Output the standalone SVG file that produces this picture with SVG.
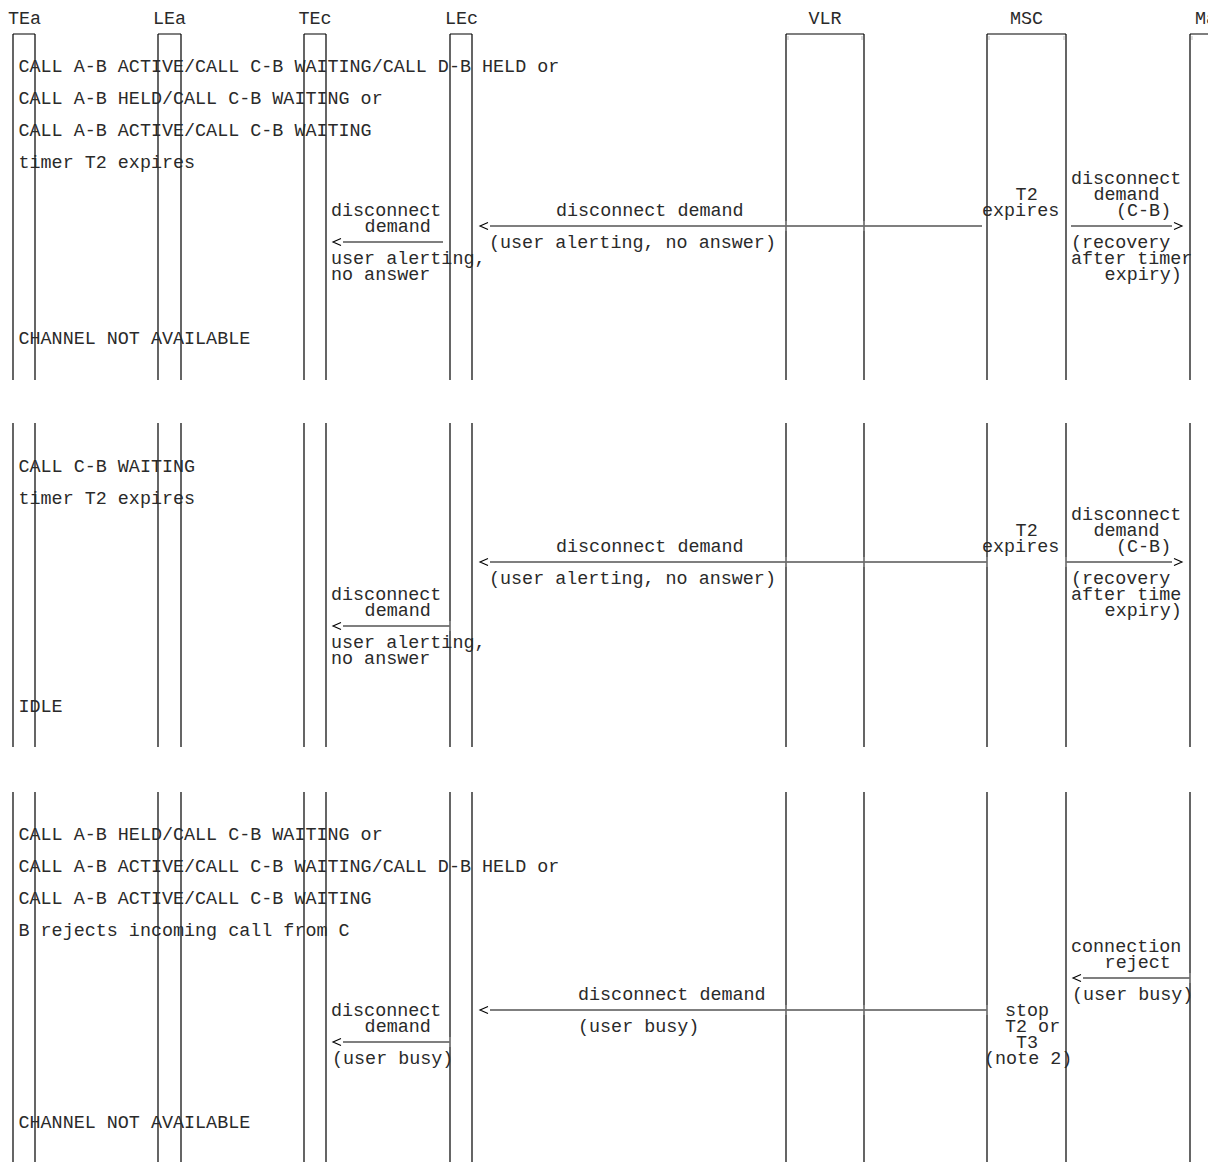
<svg xmlns="http://www.w3.org/2000/svg" width="1208" height="1162" viewBox="0 0 1208 1162">
<style>
text{font-family:"Liberation Mono","DejaVu Sans Mono",monospace;font-size:18.4px;fill:#2a2a2a}
.hd{text-anchor:middle}
.ll{stroke:#000;stroke-width:1.2;fill:none}
.msg{stroke:#000;stroke-width:1.1;fill:none}
.tick{stroke:#999;stroke-width:1.2;fill:none}
.corner{stroke:#bbb;stroke-width:1;fill:none}
</style>
<defs>
<marker id="chev" viewBox="0 0 10 8" markerWidth="10" markerHeight="8" markerUnits="userSpaceOnUse" refX="-2" refY="4" orient="auto" overflow="visible">
<path d="M0,0.5 L8,4 L0,7.5" fill="none" stroke="#000" stroke-width="1.1"/>
</marker>
</defs>
<rect width="1208" height="1162" fill="#fff"/>
<g id="TEa"><text class="hd" x="24.5" y="23.5">TEa</text><path class="ll" d="M13,34H35M13,34V380M35,34V380M13,423V747M35,423V747M13,792V1162M35,792V1162"/></g>
<g id="LEa"><text class="hd" x="169.5" y="23.5">LEa</text><path class="ll" d="M158,34H181M158,34V380M181,34V380M158,423V747M181,423V747M158,792V1162M181,792V1162"/></g>
<g id="TEc"><text class="hd" x="315" y="23.5">TEc</text><path class="ll" d="M304,34H326M304,34V380M326,34V380M304,423V747M326,423V747M304,792V1162M326,792V1162"/></g>
<g id="LEc"><text class="hd" x="461.5" y="23.5">LEc</text><path class="ll" d="M450,34H472M450,34V380M472,34V380M450,423V747M472,423V747M450,792V1162M472,792V1162"/></g>
<g id="VLR"><text class="hd" x="825" y="23.5">VLR</text><path class="ll" d="M786,34H864M786,34V380M864,34V380M786,423V747M864,423V747M786,792V1162M864,792V1162"/><path class="corner" d="M788,36V40M862,36V40"/></g>
<g id="MSC"><text class="hd" x="1026.5" y="23.5">MSC</text><path class="ll" d="M987,34H1066M987,34V380M1066,34V380M987,423V747M1066,423V747M987,792V1162M1066,792V1162"/><path class="corner" d="M989,36V40M1064,36V40"/></g>
<g id="Ma"><text x="1195" y="23.5">Ma</text><path class="ll" d="M1190,34H1210M1190,34V380M1190,423V747M1190,792V1162"/><path class="corner" d="M1192,36V40"/></g>

<g id="states">
<text x="18.5" y="71.5">CALL A-B ACTIVE/CALL C-B WAITING/CALL D-B HELD or</text>
<text x="18.5" y="103.5">CALL A-B HELD/CALL C-B WAITING or</text>
<text x="18.5" y="135.5">CALL A-B ACTIVE/CALL C-B WAITING</text>
<text x="18.5" y="167.5">timer T2 expires</text>
<text x="18.5" y="343.5">CHANNEL NOT AVAILABLE</text>
<text x="18.5" y="471.5">CALL C-B WAITING</text>
<text x="18.5" y="503.5">timer T2 expires</text>
<text x="18.5" y="711.5">IDLE</text>
<text x="18.5" y="839.5">CALL A-B HELD/CALL C-B WAITING or</text>
<text x="18.5" y="871.5">CALL A-B ACTIVE/CALL C-B WAITING/CALL D-B HELD or</text>
<text x="18.5" y="903.5">CALL A-B ACTIVE/CALL C-B WAITING</text>
<text x="18.5" y="935.5">B rejects incoming call from C</text>
<text x="18.5" y="1127.5">CHANNEL NOT AVAILABLE</text>
</g>

<g id="timers">
<text x="1015.6" y="199.5">T2</text>
<text x="982" y="215.5">expires</text>
<text x="1015.6" y="535.5">T2</text>
<text x="982" y="551.5">expires</text>
<text x="1005" y="1015.5">stop</text>
<text x="1005" y="1031.5">T2 or</text>
<text x="1016" y="1047.5">T3</text>
<text x="984" y="1063.5">(note 2)</text>
</g>

<g id="connectors">
<path class="msg" marker-end="url(#chev)" d="M443,242H343"/>
<path class="msg" marker-end="url(#chev)" d="M982,226H490"/>
<path class="msg" marker-end="url(#chev)" d="M1071,226H1172"/>
<path class="msg" marker-end="url(#chev)" d="M987,562H490"/>
<path class="msg" marker-end="url(#chev)" d="M1066,562H1172"/>
<path class="msg" marker-end="url(#chev)" d="M450,626H343"/>
<path class="msg" marker-end="url(#chev)" d="M1190,978H1083"/>
<path class="msg" marker-end="url(#chev)" d="M987,1010H490"/>
<path class="msg" marker-end="url(#chev)" d="M450,1042H343"/>
<path class="tick" d="M786,221V231M864,221V231M786,557V567M864,557V567M987,557V567M1066,557V567M450,621V631M786,1005V1015M864,1005V1015M987,1005V1015M1190,973V983M450,1037V1047"/>
</g>

<g id="labels">
<text x="331" y="215.5">disconnect</text>
<text x="364.6" y="231.5">demand</text>
<text x="331" y="263.5">user alerting,</text>
<text x="331" y="279.5">no answer</text>
<text x="556" y="215.5">disconnect demand</text>
<text x="489" y="247.5">(user alerting, no answer)</text>
<text x="1071" y="183.5">disconnect</text>
<text x="1093.4" y="199.5">demand</text>
<text x="1116" y="215.5">(C-B)</text>
<text x="1071" y="247.5">(recovery</text>
<text x="1071" y="263.5">after timer</text>
<text x="1104.6" y="279.5">expiry)</text>

<text x="556" y="551.5">disconnect demand</text>
<text x="489" y="583.5">(user alerting, no answer)</text>
<text x="1071" y="519.5">disconnect</text>
<text x="1093.4" y="535.5">demand</text>
<text x="1116" y="551.5">(C-B)</text>
<text x="1071" y="583.5">(recovery</text>
<text x="1071" y="599.5">after time</text>
<text x="1104.6" y="615.5">expiry)</text>
<text x="331" y="599.5">disconnect</text>
<text x="364.6" y="615.5">demand</text>
<text x="331" y="647.5">user alerting,</text>
<text x="331" y="663.5">no answer</text>

<text x="1071" y="951.5">connection</text>
<text x="1104.6" y="967.5">reject</text>
<text x="1072" y="999.5">(user busy)</text>
<text x="578" y="999.5">disconnect demand</text>
<text x="578" y="1031.5">(user busy)</text>
<text x="331" y="1015.5">disconnect</text>
<text x="364.6" y="1031.5">demand</text>
<text x="332" y="1063.5">(user busy)</text>
</g>
</svg>
